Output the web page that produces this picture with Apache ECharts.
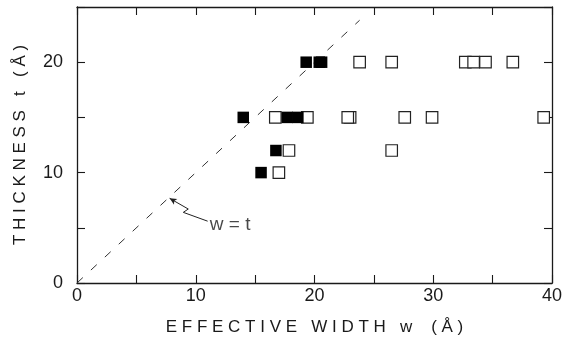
<!DOCTYPE html>
<html>
<head>
<meta charset="utf-8">
<script src="https://cdn.jsdelivr.net/npm/echarts@6/dist/echarts.min.js"></script>
<style>
  html, body { margin: 0; padding: 0; background: #fff; }
  #chart { width: 566px; height: 341px; }
</style>
</head>
<body>
<div id="chart"></div>
<script>
// Effective width w (Å) and thickness t (Å) of each sample
const filledW = [19.3, 20.4, 20.6, 14.0, 17.7, 18.6, 16.75, 15.5];
const filledT = [20, 20, 20, 15, 15, 15, 12, 10];
const openW = [23.8, 26.5, 32.7, 33.4, 34.4, 36.7, 16.7, 19.4, 23.0, 22.8, 27.6, 29.9, 39.3, 17.85, 26.5, 17.0];
const openT = [20, 20, 20, 20, 20, 20, 15, 15, 15, 15, 15, 15, 15, 12, 12, 10];

// Reference line w = t and its callout
const diagW = [0, 23.8];
const calloutW = [11.0, 8.95, 9.37, 7.8];
const calloutT = [5.6, 6.4, 6.7, 7.67];
const calloutText = 'w = t';
const calloutPos = [12.9, 5.25];

// Axis ranges and titles
const xRange = [0, 40];
const yRange = [0, 25];
const xTitle = 'E F F E C T I V E   W I D T H   w    ( Å )';
const yTitle = 'T H I C K N E S S   t   ( Å )';

const font = 'Liberation Sans';
const ink = '#1a1a1a';

const pairs = (a, b) => a.map((v, i) => [v, b[i]]);

const baseAxis = (range, showLabels, position) => ({
  type: 'value',
  position: position,
  min: range[0],
  max: range[1],
  interval: 5,
  splitLine: { show: false },
  axisLine: { show: true, onZero: false, lineStyle: { color: ink, width: 1.3 } },
  axisTick: { show: true, inside: true, length: 8, lineStyle: { color: ink, width: 1.1 } },
  axisLabel: {
    show: showLabels,
    color: ink,
    fontFamily: font,
    fontSize: 18,
    formatter: v => (v % 10 === 0 ? String(v) : '')
  }
});

const xBottom = Object.assign(baseAxis(xRange, true, 'bottom'), {
  name: xTitle, nameLocation: 'middle', nameGap: 36,
  nameTextStyle: { color: ink, fontFamily: font, fontSize: 17 }
});
xBottom.axisLabel.margin = 4;
const yLeft = Object.assign(baseAxis(yRange, true, 'left'), {
  name: yTitle, nameLocation: 'middle', nameGap: 48,
  nameTextStyle: { color: ink, fontFamily: font, fontSize: 17 }
});
yLeft.axisLabel.margin = 14;

const option = {
  animation: false,
  backgroundColor: '#fff',
  grid: { left: 77, right: 14, top: 7, bottom: 56 },
  xAxis: [xBottom, baseAxis(xRange, false, 'top')],
  yAxis: [yLeft, baseAxis(yRange, false, 'right')],
  series: [
    {
      type: 'line',
      data: pairs(diagW, diagW),
      symbol: 'none',
      lineStyle: { color: '#333', width: 1, type: [8, 11], dashOffset: 0 },
      z: 1
    },
    {
      type: 'line',
      data: pairs(calloutW, calloutT).map((p, i, arr) =>
        i === arr.length - 1
          ? { value: p, symbol: 'arrow', symbolSize: [5, 7], symbolRotate: 60 }
          : { value: p, symbol: 'none' }),
      showSymbol: true,
      lineStyle: { color: '#222', width: 1 },
      itemStyle: { color: '#222' },
      z: 2
    },
    {
      type: 'scatter',
      data: [calloutPos],
      symbolSize: 0,
      label: {
        show: true,
        position: 'inside',
        formatter: calloutText,
        color: ink,
        fontFamily: font,
        fontSize: 19
      },
      z: 3
    },
    {
      type: 'scatter',
      data: pairs(openW, openT),
      symbol: 'rect',
      symbolSize: 11.5,
      itemStyle: { color: '#fff', borderColor: '#222', borderWidth: 1.2, opacity: 1 },
      z: 4
    },
    {
      type: 'scatter',
      data: pairs(filledW, filledT),
      symbol: 'rect',
      symbolSize: 11.5,
      itemStyle: { color: '#000', opacity: 1 },
      z: 5
    }
  ]
};

echarts.init(document.getElementById('chart'), null, { renderer: 'canvas' }).setOption(option);
</script>
</body>
</html>
